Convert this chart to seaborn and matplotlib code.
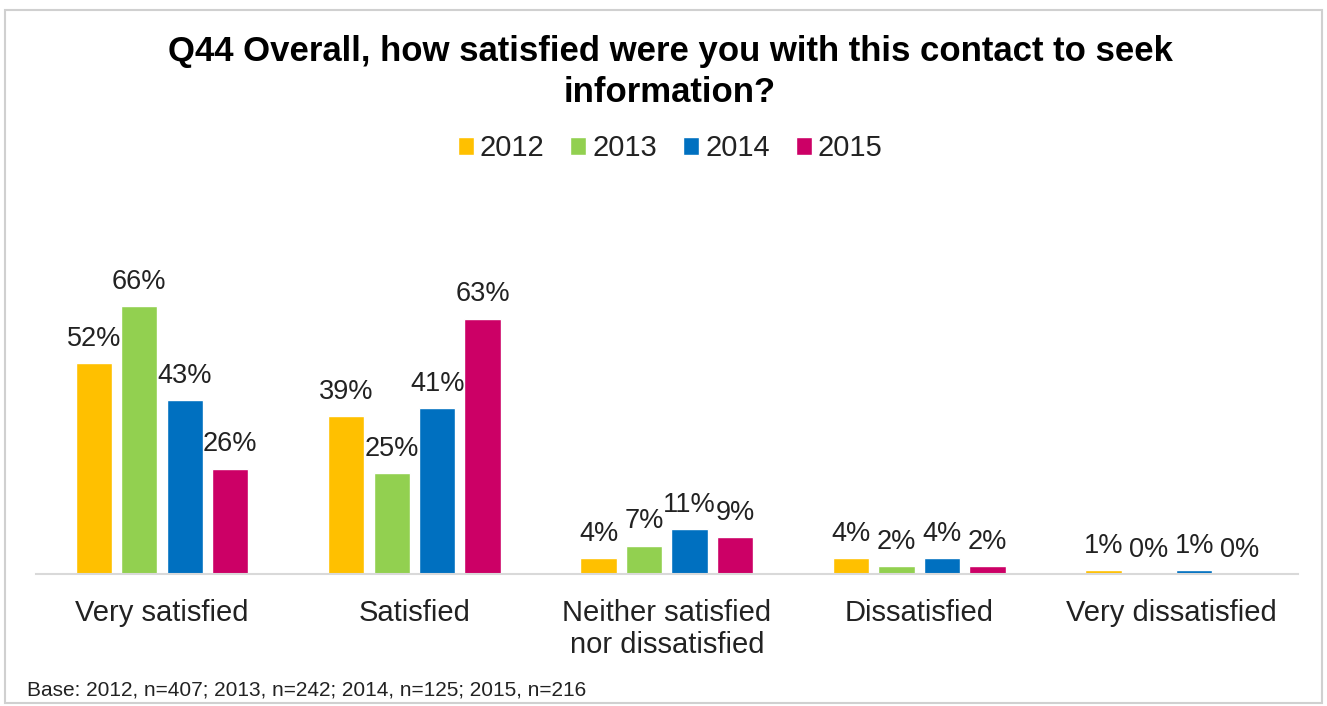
import pandas as pd
import seaborn as sns
import matplotlib.pyplot as plt
from matplotlib.patches import Rectangle

categories = ["Very satisfied", "Satisfied", "Neither satisfied\nnor dissatisfied",
              "Dissatisfied", "Very dissatisfied"]
years = ["2012", "2013", "2014", "2015"]
v2012 = [52, 39, 4, 4, 1]
v2013 = [66, 25, 7, 2, 0]
v2014 = [43, 41, 11, 4, 1]
v2015 = [26, 63, 9, 2, 0]
colors = ["#FFC000", "#92D050", "#0070C0", "#CC0066"]

df = pd.DataFrame({
    "cat": categories * 4,
    "year": [y for y in years for _ in categories],
    "pct": v2012 + v2013 + v2014 + v2015,
})

sns.set_style("white")
plt.rcParams["font.family"] = ["Liberation Sans", "DejaVu Sans"]

fig = plt.figure(figsize=(13.27, 7.06), dpi=100)
ax = fig.add_axes([0.027, 0.187, 0.951, 0.402])

sns.barplot(data=df, x="cat", y="pct", hue="year", palette=colors,
            width=0.72, gap=0.2, ax=ax, legend=True, saturation=1)

for cont in ax.containers:
    ax.bar_label(cont, labels=[f"{v:.0f}%" for v in cont.datavalues],
                 padding=8, fontsize=19.5, color="#222222", clip_on=False)

ax.set_xlim(-0.5, 4.5)
ax.set_ylim(0, 70)
ax.set_xlabel("")
ax.set_ylabel("")
ax.set_yticks([])
for s in ["top", "left", "right"]:
    ax.spines[s].set_visible(False)
ax.spines["bottom"].set_color("#d9d9d9")
ax.spines["bottom"].set_linewidth(1.5)
ax.tick_params(axis="x", length=0, labelsize=21, pad=18, colors="#222222")
for lbl in ax.get_xticklabels():
    lbl.set_linespacing(1.2)

leg = ax.legend(loc="center", bbox_to_anchor=(0.505, 0.79), bbox_transform=fig.transFigure,
                ncol=4, frameon=False, fontsize=21, handlelength=0.55, handleheight=0.55,
                handletextpad=0.2, columnspacing=0.9)
for t in leg.get_texts():
    t.set_color("#222222")

fig.text(0.505, 0.898, "Q44 Overall, how satisfied were you with this contact to seek\ninformation?",
         ha="center", va="center", fontsize=25, fontweight="bold", linespacing=1.3,
         color="black")
fig.text(0.02, 0.022, "Base: 2012, n=407; 2013, n=242; 2014, n=125; 2015, n=216",
         ha="left", va="center", fontsize=15, color="#222222")

fig.patches.append(Rectangle((0.004, 0.004), 0.992, 0.982, transform=fig.transFigure,
                             fill=False, edgecolor="#d0d0d0", linewidth=1.5))

fig.savefig("out.png", dpi=100)
